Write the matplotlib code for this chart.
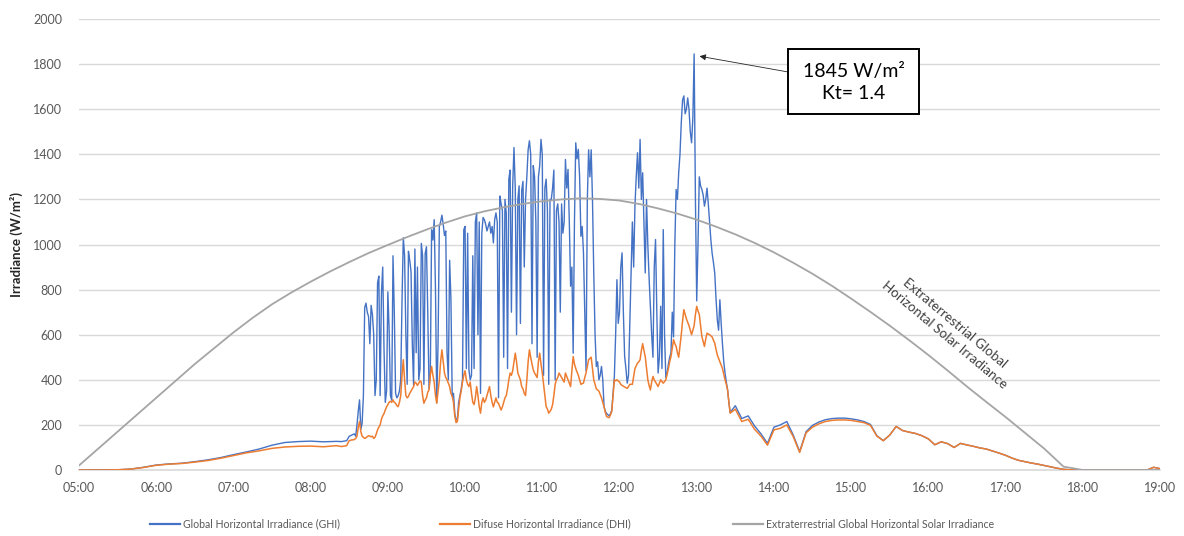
import numpy as np
import matplotlib
matplotlib.use("Agg")
import matplotlib.pyplot as plt
from matplotlib.lines import Line2D
from matplotlib.patches import Rectangle
from matplotlib import font_manager

plt.rcParams['font.family'] = ['Lato', 'DejaVu Sans']

# ---- measured irradiance (W/m²) ----
# early morning, every 10 min from 05:00
morning_start, morning_step = "05:00", 10
ghi_morning = [0, 0, 0, 1, 4, 12, 22, 27, 30, 37, 45, 55, 68, 80, 93, 110, 122, 126, 128, 125, 127]
dhi_morning = [0, 0, 0, 1, 4, 11, 21, 26, 29, 35, 42, 52, 64, 76, 85, 96, 102, 105, 106, 103, 108]

# broken-cloud period, every minute from 08:24
midday_start, midday_step = "08:24", 1
ghi_midday = [
    126, 127, 128, 129, 130, 140, 150, 152, 155, 158,
    160, 150, 200, 260, 311, 180, 207, 330, 720, 740,
    700, 680, 560, 730, 690, 600, 330, 400, 830, 860,
    330, 780, 900, 540, 300, 350, 790, 620, 330, 310,
    950, 700, 340, 320, 330, 350, 400, 750, 1030, 950,
    600, 380, 970, 930, 880, 560, 375, 980, 520, 900,
    400, 450, 1005, 950, 380, 960, 990, 700, 360, 430,
    1065, 1020, 1110, 800, 300, 560, 1080, 1100, 1130, 1090,
    1040, 1060, 520, 400, 930, 760, 330, 340, 250, 222,
    225, 300, 330, 360, 400, 1066, 1080, 450, 1050, 444,
    400, 420, 950, 450, 1100, 1140, 600, 1100, 340, 1050,
    1120, 1110, 1090, 1060, 1080, 1100, 1050, 1080, 1007, 1110,
    1140, 1100, 320, 1215, 1180, 1150, 500, 1200, 1140, 450,
    1290, 1330, 700, 1260, 1430, 1250, 600, 1200, 1260, 650,
    1240, 1280, 900, 1200, 1300, 1420, 1460, 1400, 560, 1350,
    1300, 1100, 500, 1300, 1350, 1466, 1400, 420, 1250, 1290,
    1150, 380, 1200, 1200, 1250, 1330, 400, 1150, 1180, 1100,
    700, 1180, 1050, 1100, 1377, 1250, 1333, 1100, 815, 900,
    518, 1100, 1451, 1380, 1422, 1300, 1036, 1080, 963, 700,
    440, 1200, 1420, 1300, 1420, 1200, 874, 600, 459, 480,
    400, 420, 459, 400, 281, 260, 250, 245, 240, 250,
    265, 340, 415, 600, 844, 650, 700, 900, 963, 700,
    503, 450, 385, 420, 651, 900, 1100, 900, 1170, 1300,
    1407, 1250, 1466, 1200, 1318, 1100, 874, 1200, 1000, 850,
    726, 600, 500, 900, 1022, 700, 430, 500, 726, 450,
    1066, 600, 410, 430, 470, 500, 520, 700, 590, 1000,
    1244, 1200, 1318, 1400, 1540, 1640, 1659, 1580, 1600, 1650,
    1600, 1500, 1451, 1560, 1845, 1200, 750, 1000, 1300, 1260,
    1244, 1220, 1170, 1200, 1250, 1180, 1100, 1020, 960, 920,
    874, 760, 666, 620, 755, 650, 560, 480, 430, 390,
    355, 300, 255,
]
dhi_midday = [
    104, 105, 106, 107, 108, 120, 130, 132, 133, 134,
    135, 140, 150, 190, 215, 170, 150, 145, 140, 143,
    148, 152, 150, 147, 150, 140, 145, 160, 178, 190,
    200, 225, 240, 250, 266, 280, 290, 300, 305, 300,
    311, 300, 296, 285, 281, 300, 330, 420, 489, 400,
    330, 320, 326, 340, 350, 360, 370, 390, 385, 375,
    385, 395, 390, 330, 296, 310, 320, 345, 355, 420,
    459, 420, 390, 330, 296, 350, 400, 480, 533, 480,
    430, 410, 400, 385, 370, 340, 326, 300, 240, 210,
    215, 270, 320, 350, 390, 420, 440, 400, 380, 370,
    390, 340, 300, 290, 320, 370, 330, 280, 252, 300,
    320, 300, 310, 330, 350, 370, 330, 300, 280, 300,
    320, 300, 296, 280, 266, 280, 300, 320, 330, 360,
    400, 430, 420, 440, 480, 518, 480, 430, 415, 400,
    370, 360, 340, 330, 400, 480, 533, 500, 470, 444,
    430, 420, 410, 480, 518, 470, 430, 380, 330, 281,
    270, 252, 260, 270, 290, 330, 380, 400, 410, 430,
    420, 410, 400, 390, 430, 415, 400, 385, 370, 440,
    503, 470, 450, 435, 420, 400, 380, 383, 385, 410,
    430, 460, 489, 495, 500, 450, 400, 380, 360, 355,
    350, 335, 320, 300, 280, 255, 237, 234, 232, 245,
    260, 330, 400, 395, 400, 395, 390, 380, 375, 372,
    368, 365, 362, 370, 380, 380, 380, 415, 450, 462,
    474, 480, 489, 530, 560, 530, 503, 450, 400, 375,
    355, 390, 415, 400, 390, 380, 370, 385, 400, 392,
    385, 392, 400, 425, 450, 480, 503, 540, 578, 560,
    548, 520, 500, 550, 600, 660, 711, 690, 670, 655,
    640, 620, 600, 620, 640, 690, 726, 705, 690, 640,
    592, 570, 548, 580, 607, 603, 600, 595, 590, 575,
    563, 535, 510, 495, 480, 465, 450, 425, 400, 380,
    355, 300, 252,
]

# afternoon, every 5 min from 13:30
afternoon_start, afternoon_step = "13:30", 5
ghi_afternoon = [
    285, 228, 240, 195, 160, 118, 190, 200, 215, 155,
    82, 170, 198, 213, 223, 228, 230, 230, 227, 222,
    215, 202, 152, 130, 155, 193, 175, 168, 162, 152,
    138, 112, 125, 117, 100, 118, 111, 105, 98, 93,
    84, 75, 65, 53, 43, 37, 31, 26, 20, 14,
    8, 3, 1, 0, 0, 0, 0, 0, 0, 0,
    0, 0, 0, 0, 0, 12, 6,
]
dhi_afternoon = [
    270, 215, 225, 180, 150, 110, 178, 185, 200, 148,
    78, 165, 190, 205, 215, 220, 222, 222, 220, 215,
    210, 198, 150, 130, 155, 193, 175, 168, 162, 152,
    138, 112, 125, 117, 100, 118, 111, 105, 98, 93,
    84, 75, 65, 53, 43, 37, 31, 26, 20, 14,
    8, 3, 1, 0, 0, 0, 0, 0, 0, 0,
    0, 0, 0, 0, 0, 12, 6,
]

# extraterrestrial horizontal irradiance, every 15 min from 05:00
et_start, et_step = "05:00", 15
et_values = [
    20, 95, 170, 245, 320, 395, 470, 540, 610, 675,
    735, 787, 835, 880, 922, 962, 998, 1033, 1066, 1097,
    1125, 1147, 1165, 1180, 1192, 1200, 1205, 1202, 1195, 1180,
    1160, 1137, 1110, 1079, 1045, 1007, 965, 919, 870, 817,
    760, 701, 640, 576, 510, 441, 370, 302, 235, 165,
    95, 15, 0, 0, 0, 0, 0,
]

hour_ticks = ["05:00", "06:00", "07:00", "08:00", "09:00", "10:00", "11:00", "12:00",
              "13:00", "14:00", "15:00", "16:00", "17:00", "18:00", "19:00"]
y_ticks = [0, 200, 400, 600, 800, 1000, 1200, 1400, 1600, 1800, 2000]

peak_label = "1845 W/m²\nKt= 1.4"
peak_value = 1845
series_names = ["Global Horizontal Irradiance (GHI)",
                "Difuse Horizontal Irradiance (DHI)",
                "Extraterrestrial Global Horizontal Solar Irradiance"]


def clock(start, step_min, n):
    h, m = map(int, start.split(":"))
    return h + m / 60 + step_min * np.arange(n) / 60.0


t_ghi = np.concatenate([clock(morning_start, morning_step, len(ghi_morning)),
                        clock(midday_start, midday_step, len(ghi_midday)),
                        clock(afternoon_start, afternoon_step, len(ghi_afternoon))])
ghi = np.array(ghi_morning + ghi_midday + ghi_afternoon, dtype=float)
t_dhi = np.concatenate([clock(morning_start, morning_step, len(dhi_morning)),
                        clock(midday_start, midday_step, len(dhi_midday)),
                        clock(afternoon_start, afternoon_step, len(dhi_afternoon))])
dhi = np.array(dhi_morning + dhi_midday + dhi_afternoon, dtype=float)
t_et = clock(et_start, et_step, len(et_values))
et = np.array(et_values, dtype=float)

BLUE = "#4472C4"
ORANGE = "#ED7D31"
GREY = "#A5A5A5"
GRID = "#D9D9D9"
TXT = "#595959"

W, H = 1184, 536
fig = plt.figure(figsize=(W / 100, H / 100), dpi=100)
ax = fig.add_axes([79 / W, (H - 470) / H, (1160 - 79) / W, (470 - 19) / H])

ax.plot(t_ghi, ghi, color=BLUE, lw=1.0, zorder=3)
ax.plot(t_dhi, dhi, color=ORANGE, lw=1.1, zorder=4)
ax.plot(t_et, et, color=GREY, lw=1.3, zorder=5)

ax.set_xlim(5, 19)
ax.set_ylim(0, 2000)
ax.set_xticks([int(s[:2]) for s in hour_ticks])
ax.set_xticklabels(hour_ticks)
ax.set_yticks(y_ticks)
ax.set_yticklabels([str(v) for v in y_ticks])
ax.tick_params(axis='both', length=0, labelsize=9, colors=TXT)
ax.tick_params(axis='x', pad=9)
ax.tick_params(axis='y', pad=12)
ax.grid(axis='y', color=GRID, lw=1.0, zorder=0)
for s in ("top", "right", "left"):
    ax.spines[s].set_visible(False)
ax.spines["bottom"].set_color(GRID)
ax.spines["bottom"].set_linewidth(1.2)
ax.set_ylabel("Irradiance (W/m²)", fontsize=9.5, fontweight='bold', color="#262626", labelpad=7)

# peak annotation: framed label with an arrow to the highest GHI sample
i_peak = int(np.argmax(ghi))
t_peak = t_ghi[i_peak]
ax.add_patch(Rectangle((14.184, 1578), 15.881 - 14.184, 1867 - 1578, fc='white', ec='black',
                       lw=1.4, zorder=7))
ax.text(15.03, 1718, peak_label, ha='center', va='center', fontsize=14, color='black',
        linespacing=1.3, zorder=8)
ax.annotate("", xy=(t_peak + 0.07, peak_value - 10), xytext=(14.184, 1765),
            arrowprops=dict(arrowstyle='-|>', color='#262626', lw=0.6,
                            mutation_scale=9, shrinkA=0, shrinkB=0), zorder=6)

# curve label along the extraterrestrial line
ax.text(16.27, 625, "Extraterrestrial Global\nHorizontal Solar Irradiance", rotation=-40,
        rotation_mode='anchor', ha='center', va='center', fontsize=9.7, color="#404040",
        linespacing=1.4, zorder=6)

# legend row under the axis
installed = {f.name for f in font_manager.fontManager.ttflist}
if 'Liberation Sans Narrow' in installed:
    leg_font, leg_size = ['Liberation Sans Narrow', 'Lato'], 8.2
else:
    leg_font, leg_size = ['Lato', 'DejaVu Sans'], 7.6
leg_y = (H - 524) / H
for (x0, x1, xt), col, name in zip([(150, 180, 183), (440, 470, 473), (733, 763, 766)],
                                   [BLUE, ORANGE, GREY], series_names):
    fig.add_artist(Line2D([x0 / W, x1 / W], [leg_y, leg_y], color=col, lw=1.6,
                          transform=fig.transFigure))
    fig.text(xt / W, leg_y, name, ha='left', va='center', fontsize=leg_size,
             family=leg_font, color=TXT)

fig.savefig("out.png", dpi=100, facecolor='white')
